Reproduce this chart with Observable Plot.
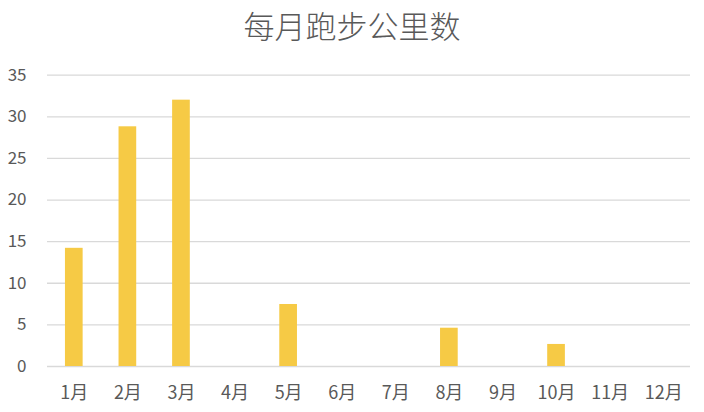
<!DOCTYPE html>
<html><head><meta charset="utf-8">
<script src="https://cdn.jsdelivr.net/npm/d3@7"></script>
<script src="https://cdn.jsdelivr.net/npm/@observablehq/plot@0.6"></script>
<style>
body{margin:0;background:#fff;width:704px;height:412px;overflow:hidden;font-family:"Noto Sans CJK SC","Noto Sans",sans-serif;}
#title{height:52px;line-height:50px;text-align:center;font-size:31px;color:#595959;font-weight:300;}
</style></head><body>
<div id="title">每月跑步公里数</div>
<div id="chart"></div>
<script>
const months = ["1月","2月","3月","4月","5月","6月","7月","8月","9月","10月","11月","12月"];
const km = [14.2, 28.8, 32.0, 0, 7.45, 0, 0, 4.6, 0, 2.65, 0, 0];
const yTicks = [0,5,10,15,20,25,30,35];
const data = months.map((m,i)=>({month:m, km:km[i]}));
const chart = Plot.plot({
  width:704, height:360,
  marginTop:22.7, marginBottom:46, marginLeft:47, marginRight:14,
  style:{fontFamily:'"Noto Sans CJK SC","Noto Sans",sans-serif', fontSize:"16px", color:"#595959", background:"#fff"},
  x:{domain:months, paddingInner:0.67, paddingOuter:0.335, round:false, label:null},
  y:{domain:[0,35], label:null},
  marks:[
    Plot.gridY(yTicks,{stroke:"#d9d9d9", strokeOpacity:1, strokeWidth:1.3}),
    Plot.barY(data,{x:"month", y:"km", fill:"#F6CA45"}),
    Plot.axisY(yTicks,{tickSize:0, tickPadding:21, fontSize:17, fill:"#595959"}),
    Plot.axisX({tickSize:0, tickPadding:20, fontSize:18, fill:"#595959"})
  ]
});
document.getElementById("chart").appendChild(chart);
</script></body></html>
